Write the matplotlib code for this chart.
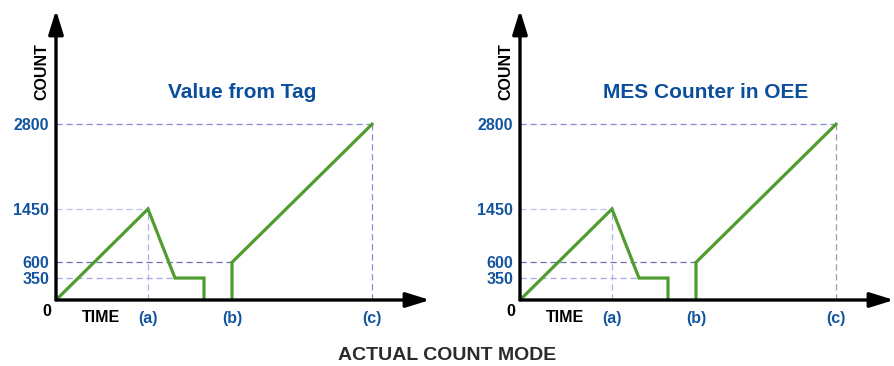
import matplotlib
matplotlib.use("Agg")
import matplotlib.pyplot as plt

plt.rcParams['font.family'] = ['Liberation Sans', 'DejaVu Sans']
plt.rcParams['font.weight'] = 'bold'

# data start here
panel_titles = ["Value from Tag", "MES Counter in OEE"]
# time positions (arbitrary units)
t_a, t_drop, t_stop, t_b, t_c = 9.2, 11.9, 14.8, 17.6, 31.6
# first run: up to (a), drop, hold, reset
run1_t = [0, t_a, t_drop, t_stop, t_stop]
run1_n = [0, 1450, 350, 350, 0]
# second run: start at (b) with 600, rise to 2800 at (c)
run2_t = [t_b, t_b, t_c]
run2_n = [0, 600, 2800]
count_ticks = [350, 600, 1450, 2800]
time_ticks = [t_a, t_b, t_c]
time_labels = ["(a)", "(b)", "(c)"]
# data end here

blue = '#1455a0'
green = '#4f9c2f'

fig = plt.figure(figsize=(8.94, 3.66), dpi=100)

W, H = 894.0, 366.0
x_end = 37.4      # arrow tip on time axis
y_end = 4620      # arrow tip on count axis

for k, left_px in enumerate([56, 520]):
    ax = fig.add_axes([left_px / W, (H - 300) / H, 374 / W, 290 / H])
    ax.set_xlim(0, x_end)
    ax.set_ylim(0, y_end)
    for s in ax.spines.values():
        s.set_visible(False)

    # helper dashed lines
    dash = dict(lw=0.9, ls=(0, (5, 3)))
    ax.plot([0, t_c], [2800, 2800], color='#8a8ad6', **dash)
    ax.plot([t_c, t_c], [0, 2800], color='#8a8ad6' if k == 0 else '#9a9ab8', **dash)
    ax.plot([0, t_a], [1450, 1450], color='#c0c0ea', **dash)
    ax.plot([t_a, t_a], [0, 1450], color='#b0b0e4', **dash)
    ax.plot([0, t_b], [600, 600], color='#6f6fae', **dash)
    ax.plot([0, t_drop], [350, 350], color='#a8a8e0', **dash)

    # count curve
    ax.plot(run1_t, run1_n, color=green, lw=2.3, solid_joinstyle='miter')
    ax.plot(run2_t, run2_n, color=green, lw=2.3, solid_joinstyle='miter')

    # axes with arrow heads
    arrow = dict(arrowstyle='-|>,head_length=1.45,head_width=0.45',
                 mutation_scale=10, lw=2.4, color='black',
                 shrinkA=0, shrinkB=0)
    ax.annotate('', xy=(x_end, 0), xytext=(0, 0), arrowprops=arrow,
                annotation_clip=False)
    ax.annotate('', xy=(0, y_end), xytext=(0, 0), arrowprops=arrow,
                annotation_clip=False)

    ax.set_yticks(count_ticks, [str(v) for v in count_ticks])
    ax.set_xticks(time_ticks, time_labels)
    ax.tick_params(length=0, labelsize=11.5, labelcolor=blue)
    ax.tick_params(axis='y', pad=5)
    ax.tick_params(axis='x', pad=8)
    for lab in ax.get_xticklabels() + ax.get_yticklabels():
        lab.set_fontweight('bold')

    ax.text(-0.5, -70, '0', ha='right', va='top', fontsize=11.5, color='black')
    ax.text(4.5, -160, 'TIME', ha='center', va='top', fontsize=11.5, color='black')
    ax.text(-1.4, 3640, 'COUNT', ha='center', va='center', rotation=90,
            fontsize=11.5, color='black')
    ax.text(18.6, 3300, panel_titles[k], ha='center', va='center',
            fontsize=15, color='#0b4f9c')

fig.text(0.5, (H - 356) / H, 'ACTUAL COUNT MODE', ha='center', va='center',
         fontsize=14, color='#2b2b2b')

fig.savefig('out.png', dpi=100)
